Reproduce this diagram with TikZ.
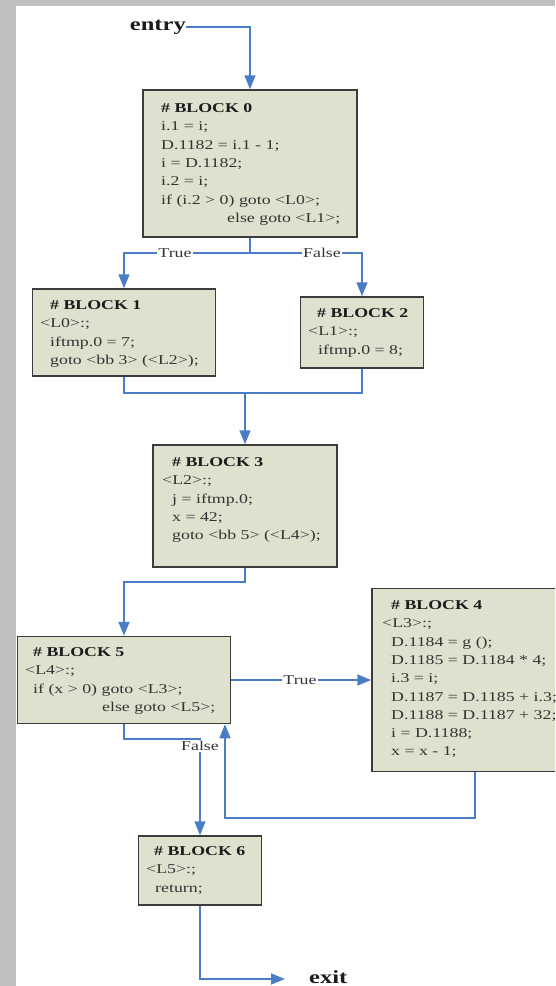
\documentclass[tikz,border=0pt]{standalone}
\usepackage{fontspec}
\setmainfont{Liberation Serif}[FakeStretch=1.32]
\usetikzlibrary{arrows.meta}

\definecolor{framegrey}{HTML}{C0BFBF}
\definecolor{blockfill}{HTML}{DFE1CF}
\definecolor{blockline}{HTML}{3C3C3C}
\definecolor{flow}{HTML}{4A7DC6}
\definecolor{codeink}{HTML}{333333}
\definecolor{headink}{HTML}{1C1C1C}

\newcommand{\blockhead}[1]{\textcolor{headink}{\textbf{\# BLOCK #1}}}

\tikzset{
  x=1pt, y=-1pt,
  block/.style={draw=blockline, fill=blockfill, line width=1.5pt, inner sep=0pt},
  codetext/.style={anchor=north west, inner sep=0pt, align=left, text=codeink,
    font=\fontsize{13.5pt}{18.3pt}\selectfont},
  flowline/.style={draw=flow, line width=1.6pt},
  flowarrow/.style={flowline, -{Triangle[width=11pt,length=14pt]}},
  edgelabel/.style={fill=white, inner sep=1.5pt, text=codeink,
    font=\fontsize{13.5pt}{16pt}\selectfont},
  terminal/.style={inner sep=0pt, text=headink, font=\fontsize{18.6pt}{22pt}\selectfont\bfseries},
}

\begin{document}
\begin{tikzpicture}
\useasboundingbox (0,0) rectangle (555,986);
\clip (0,0) rectangle (555,986);

% window frame
\fill[framegrey] (0,0) rectangle (555,6);
\fill[framegrey] (0,0) rectangle (16,986);

% basic blocks
\node[block, minimum width=214pt, minimum height=147pt] (b0) at (250,163.5) {};
\node[block, minimum width=183pt, minimum height=87pt]  (b1) at (124,332.5) {};
\node[block, minimum width=123pt, minimum height=71pt]  (b2) at (362,332.5) {};
\node[block, minimum width=184pt, minimum height=122pt] (b3) at (245,506) {};
\node[block, minimum width=206pt, minimum height=183pt] (b4) at (475,680) {};
\node[block, minimum width=213pt, minimum height=87pt]  (b5) at (124,680) {};
\node[block, minimum width=123pt, minimum height=69pt]  (b6) at (200,870.5) {};

% block contents
\node[codetext] (t0) at (161,103.4) {\blockhead{0}\\
i.1 = i;\\
D.1182 = i.1 - 1;\\
i = D.1182;\\
i.2 = i;\\
if (i.2 > 0) goto <L0>;\\
\hspace*{66pt}else goto <L1>;};

\node[codetext] (t1) at (40,300.4) {\hspace*{10pt}\blockhead{1}\\
<L0>:;\\
\hspace*{10pt}iftmp.0 = 7;\\
\hspace*{10pt}goto <bb 3> (<L2>);};

\node[codetext] (t2) at (308,308.4) {\hspace*{9pt}\blockhead{2}\\
<L1>:;\\
\hspace*{10pt}iftmp.0 = 8;};

\node[codetext] (t3) at (162,457.4) {\hspace*{10pt}\blockhead{3}\\
<L2>:;\\
\hspace*{10pt}j = iftmp.0;\\
\hspace*{10pt}x = 42;\\
\hspace*{10pt}goto <bb 5> (<L4>);};

\node[codetext] (t4) at (382,600.4) {\hspace*{9pt}\blockhead{4}\\
<L3>:;\\
\hspace*{9pt}D.1184 = g ();\\
\hspace*{9pt}D.1185 = D.1184 * 4;\\
\hspace*{9pt}i.3 = i;\\
\hspace*{9pt}D.1187 = D.1185 + i.3;\\
\hspace*{9pt}D.1188 = D.1187 + 32;\\
\hspace*{9pt}i = D.1188;\\
\hspace*{9pt}x = x - 1;};

\node[codetext] (t5) at (25,647.4) {\hspace*{8pt}\blockhead{5}\\
<L4>:;\\
\hspace*{8pt}if (x > 0) goto <L3>;\\
\hspace*{77pt}else goto <L5>;};

\node[codetext] (t6) at (146,846.4) {\hspace*{8pt}\blockhead{6}\\
<L5>:;\\
\hspace*{9pt}return;};

% entry and exit
\node[terminal, anchor=base east] (entry) at (186,30) {entry};
\node[terminal, anchor=base west] (exit) at (309,983) {exit};

% routing points
\coordinate (split0) at (250,253);
\coordinate (merge1) at (245,393);
\coordinate (bend3)  at (245,582);
\coordinate (bend5)  at (124,739);
\coordinate (back4)  at (225,818);
\coordinate (exitpt) at (285,979);

% control flow
\draw[flowarrow] (entry.east) -| (b0.north);
\draw[flowline]  (b0.south) -- (split0);
\draw[flowarrow] (split0) -| (b1.north);
\draw[flowarrow] (split0) -| (b2.north);
\draw[flowline]  (b1.south) |- (merge1);
\draw[flowline]  (b2.south) |- (merge1);
\draw[flowarrow] (merge1) -- (b3.north);
\draw[flowarrow] (b3.south) -- (bend3) -| (b5.north);
\draw[flowarrow] (b5.east) -- (b4.west);
\draw[flowarrow] (b5.south) -- (bend5) -| (b6.north);
\draw[flowarrow] (b4.south) |- (back4) -- (back4 |- b5.south);
\draw[flowarrow] (b6.south) |- (exitpt);

% branch labels
\node[edgelabel] (l0t) at (175,253) {True};
\node[edgelabel] (l0f) at (322,253) {False};
\node[edgelabel] (l5t) at (300,680) {True};
\node[edgelabel] (l5f) at (200,746) {False};
\end{tikzpicture}
\end{document}
